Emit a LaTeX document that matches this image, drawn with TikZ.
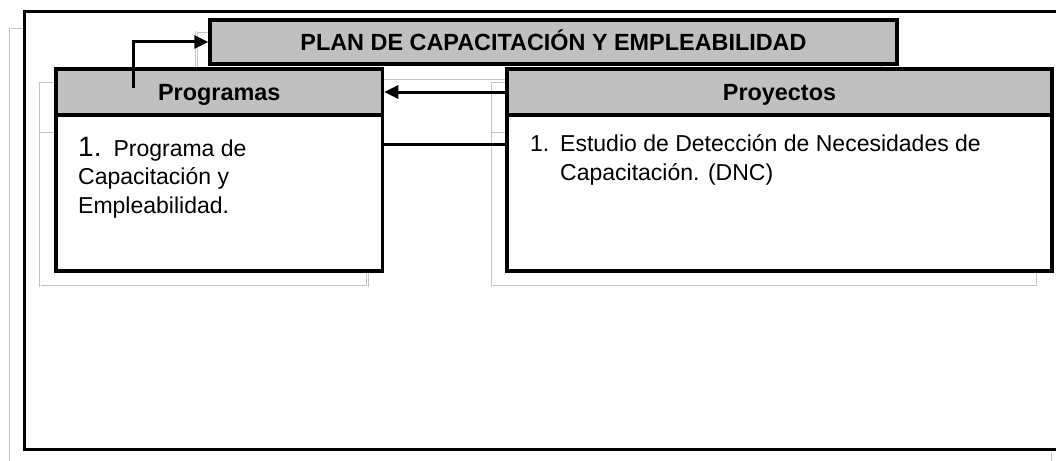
\documentclass[tikz,border=0pt]{standalone}
\usepackage{fontspec}
\setmainfont{Liberation Sans}
\usetikzlibrary{arrows.meta}
\definecolor{headgray}{RGB}{192,192,192}
\definecolor{framegray}{RGB}{196,196,196}
\tikzset{
  headbox/.style={
    draw,
    fill = headgray,
    line width = 3.5pt,
    inner sep = 0pt,
    text height = 16.5pt,
    text depth = 0pt,
    font = \fontsize{23.4}{28}\selectfont\bfseries
  },
  bodybox/.style={
    draw,
    fill = white,
    line width = 3.5pt,
    inner sep = 0pt
  },
  itemtext/.style={
    inner sep = 0pt,
    align = left,
    font = \fontsize{23}{28.5}\selectfont
  },
  frame/.style={
    draw = framegray,
    double = white,
    double distance = 1pt,
    line width = 0.8pt
  },
  link/.style={
    line width = 3pt
  },
  tip/.style={
    -{Triangle[length=14pt,width=13pt]}
  }
}

\begin{document}
\begin{tikzpicture}[x=1pt,y=-1pt]
  \useasboundingbox (0,0) rectangle (1056,460);
  \clip (0,0) rectangle (1056,460);
  % grey table lines behind the boxes
  \draw[frame] (10,470) -- (10,28) -- (24,28);
  \draw[frame] (1052,453) -- (1052,470);
  \draw[frame] (196.5,32) rectangle (881.5,80);
  \draw[frame] (40,83) rectangle (367.5,133);
  \draw[frame] (40,133) rectangle (367.5,286);
  \draw[frame] (492,83) rectangle (1037,133);
  \draw[frame] (492,133) rectangle (1037,286);
  % outer frame
  \draw[line width=3pt] (24.5,11.5) rectangle (1080,449.5);

  \node[headbox, minimum width=687pt, minimum height=44pt] (title) at (553.5,42)
    {PLAN DE CAPACITACIÓN Y EMPLEABILIDAD};
  \node[headbox, minimum width=326.5pt, minimum height=46pt] (proghead) at (219.25,92) {Programas};
  \node[bodybox, minimum width=326.5pt, minimum height=156pt] (progbody) at (219.25,193) {};
  \node[headbox, minimum width=545pt, minimum height=46pt] (proyhead) at (779.5,92) {Proyectos};
  \node[bodybox, minimum width=545pt, minimum height=156pt] (proybody) at (779.5,193) {};

  % base anchor sits on the last line
  \node[itemtext, anchor=base west] (progitem) at (78,213)
    {{\fontsize{28}{28}\selectfont 1.}\hspace*{12pt}Programa de\\Capacitación y\\Empleabilidad.};
  \node[itemtext, anchor=base west] (proyitem) at (530,180)
    {\makebox[30pt][l]{1.}Estudio de Detección de Necesidades de\\\hspace*{30pt}Capacitación. (DNC)};

  \coordinate (progup) at (133,88);
  \draw[link,tip] (progup) |- (title.west);
  \draw[link,tip] (proyhead.west) -- (proghead.east);
  \draw[link] ([yshift=-31pt]progbody.north east) -- ([yshift=-31pt]proybody.north west);
\end{tikzpicture}
\end{document}
